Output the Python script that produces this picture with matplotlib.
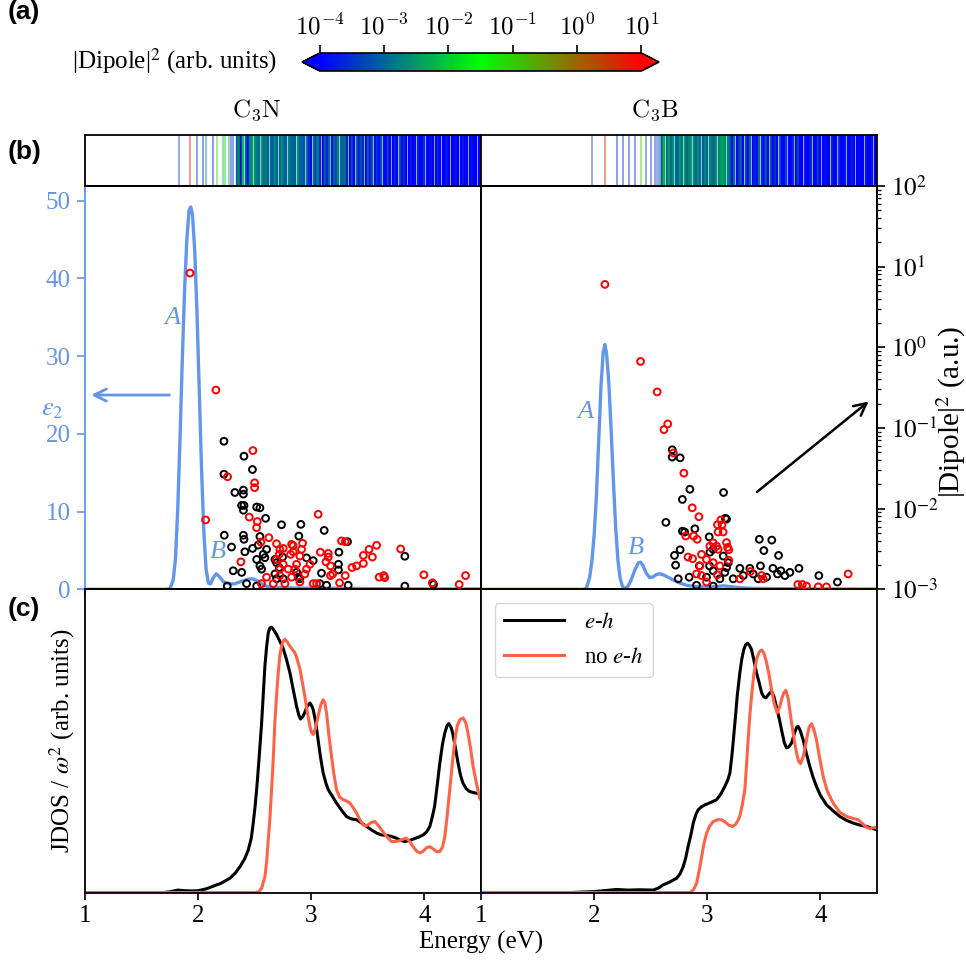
import numpy as np
import matplotlib
matplotlib.use('Agg')
import matplotlib.pyplot as plt
from matplotlib.colors import LinearSegmentedColormap, LogNorm
from matplotlib.cm import ScalarMappable
from matplotlib.ticker import LogLocator, NullFormatter, FuncFormatter, FixedLocator

plt.rcParams['font.family'] = ['Liberation Serif', 'DejaVu Serif']
plt.rcParams['mathtext.fontset'] = 'stix'

# ---------------- data ----------------
panels = ['C$_3$N', 'C$_3$B']

# epsilon_2 curves
eps_c3n_E = [1.00, 1.70, 1.75, 1.78, 1.80, 1.82, 1.84, 1.86, 1.88, 1.90, 1.92, 1.935, 1.95, 1.97, 1.99, 2.01,
             2.03, 2.05, 2.07, 2.09, 2.11, 2.13, 2.16, 2.19, 2.22, 2.25, 2.28, 2.32, 2.36, 2.40, 2.44, 2.48,
             2.52, 2.56, 2.60, 2.66, 2.75, 2.90, 3.10, 3.30, 3.60, 4.00, 4.50]
eps_c3n_v = [0.0, 0.0, 0.05, 1.2, 4.0, 10.5, 19.5, 29.5, 38.5, 45.0, 48.8, 49.2, 48.2, 43.5, 35.5, 25.5,
             15.5, 7.5, 2.6, 0.8, 0.7, 1.4, 2.0, 1.6, 1.0, 0.8, 0.7, 0.7, 0.9, 1.1, 1.3, 1.35,
             1.1, 0.7, 0.4, 0.25, 0.2, 0.15, 0.15, 0.12, 0.08, 0.05, 0.05]
eps_c3b_E = [1.00, 1.90, 1.93, 1.96, 1.98, 2.00, 2.02, 2.04, 2.06, 2.08, 2.095, 2.11, 2.13, 2.15, 2.17, 2.19,
             2.21, 2.23, 2.25, 2.27, 2.30, 2.33, 2.36, 2.39, 2.41, 2.43, 2.46, 2.49, 2.52, 2.55, 2.58, 2.62,
             2.66, 2.70, 2.76, 2.82, 2.90, 3.00, 3.08, 3.14, 3.20, 3.30, 3.40, 3.70, 4.00, 4.50]
eps_c3b_v = [0.0, 0.0, 0.1, 1.5, 3.6, 7.0, 12.0, 19.0, 26.0, 30.5, 31.5, 30.3, 26.5, 20.5, 14.0, 8.0,
             3.8, 1.4, 0.4, 0.1, 0.4, 1.3, 2.5, 3.4, 3.5, 3.1, 2.1, 1.5, 1.6, 1.9, 2.0, 1.8,
             1.5, 1.2, 0.8, 0.5, 0.35, 0.3, 0.35, 0.45, 0.35, 0.2, 0.12, 0.08, 0.05, 0.03]

# |dipole|^2 scatter (log10 values)
c3n_red_E = [1.928, 2.157, 2.066, 2.26, 2.484, 2.499, 2.499, 2.452, 2.523, 2.517, 3.061, 2.625, 2.555, 2.378,
             3.267, 3.30, 3.51, 3.577, 3.46, 3.54, 3.46, 3.36, 3.40, 3.79, 3.995, 4.07, 4.307, 4.363, 3.60,
             3.64, 3.65, 3.30, 3.25, 3.17, 3.19, 3.08, 3.15, 3.15, 3.13, 3.17,
             2.693, 2.722, 2.752, 2.717, 2.693, 2.752, 2.722, 2.826, 2.84, 2.84, 2.817, 2.923, 2.914, 2.899,
             2.87, 2.796, 2.855, 2.988, 2.958, 2.943, 2.722, 2.826, 2.605, 2.56, 2.664, 2.767, 3.017, 3.047,
             2.899]
c3n_red_logd = [0.92, -0.53, -2.14, -1.605, -1.28, -1.68, -1.74, -2.105, -2.16, -2.236, -2.07, -2.36, -2.415,
                -2.66, -2.40, -2.41, -2.505, -2.455, -2.58, -2.60, -2.68, -2.73, -2.71, -2.50, -2.82, -2.92,
                -2.94, -2.83, -2.85, -2.83, -2.855, -2.83, -2.92, -2.83, -2.81, -2.54, -2.555, -2.60, -2.66,
                -2.71,
                -2.435, -2.505, -2.493, -2.567, -2.63, -2.69, -2.75, -2.443, -2.46, -2.535, -2.567, -2.43,
                -2.505, -2.588, -2.69, -2.75, -2.75, -2.69, -2.75, -2.81, -2.83, -2.85, -2.85, -2.93, -2.93,
                -2.93, -2.93, -2.93, -2.91]
c3n_blk_E = [2.228, 2.405, 2.48, 2.228, 2.325, 2.40, 2.40, 2.384, 2.405, 2.40, 2.517, 2.546, 2.596, 2.231,
             2.40, 2.405, 2.737, 2.908, 3.114, 2.89, 2.295, 2.31, 2.385, 3.244, 3.32, 3.827, 4.08, 3.24,
             3.24, 3.09,
             2.413, 2.481, 2.531, 2.546, 2.575, 2.59, 2.605, 2.517, 2.546, 2.561, 2.679, 2.693, 2.717,
             2.679, 2.746, 2.752, 2.693, 2.87, 2.884, 2.899, 2.958, 3.017, 3.076, 3.135, 3.326, 3.827,
             2.257, 2.428, 2.517]
c3n_blk_logd = [-1.165, -1.35, -1.515, -1.573, -1.80, -1.77, -1.82, -1.96, -1.96, -2.02, -1.98, -1.99, -2.12,
                -2.33, -2.33, -2.38, -2.20, -2.195, -2.27, -2.34, -2.476, -2.77, -2.79, -2.54, -2.41, -2.59,
                -2.94, -2.69, -2.76, -2.80,
                -2.535, -2.493, -2.452, -2.345, -2.567, -2.608, -2.505, -2.63, -2.71, -2.75, -2.63, -2.67,
                -2.73, -2.81, -2.60, -2.87, -2.87, -2.79, -2.85, -2.87, -2.61, -2.645, -2.93, -2.95, -2.95,
                -2.96, -2.96, -2.93, -2.96]
c3b_red_E = [2.095, 2.41, 2.557, 2.65, 2.617, 2.70, 2.793, 2.867, 2.926, 3.12, 3.09, 3.13, 3.095, 3.14, 2.81,
             2.88, 2.91, 3.17, 3.18, 3.19, 3.19, 2.83, 2.87, 3.38, 4.245, 3.80, 3.84,
             3.023, 3.052, 3.082, 3.096, 2.949, 2.993, 3.052, 3.111, 2.935, 2.905, 2.949, 3.088, 3.288,
             3.48, 3.494, 3.877, 3.98, 4.053, 2.993]
c3b_red_logd = [0.78, -0.175, -0.553, -0.95, -1.02, -1.31, -1.56, -1.99, -2.10, -2.14, -2.20, -2.20, -2.29,
                -2.29, -2.34, -2.34, -2.38, -2.42, -2.48, -2.51, -2.64, -2.60, -2.62, -2.78, -2.81, -2.94,
                -2.94,
                -2.465, -2.424, -2.465, -2.505, -2.567, -2.63, -2.67, -2.71, -2.71, -2.81, -2.83, -2.82,
                -2.87, -2.83, -2.87, -2.96, -2.97, -2.97, -2.91]
c3b_blk_E = [2.69, 2.69, 2.76, 2.846, 2.78, 3.144, 3.17, 3.16, 2.634, 2.78, 2.80, 2.89, 3.017, 3.46, 3.57,
             3.50, 3.63, 2.76, 2.71, 2.72, 2.93, 3.02, 3.288, 3.376, 3.47, 3.58, 3.65, 3.81, 3.986, 4.15,
             3.023, 3.052, 3.141, 3.185, 3.17, 3.155, 3.052, 2.993, 3.111, 3.229, 3.318, 3.406, 3.45,
             3.524, 3.621, 3.686, 3.73, 2.84, 2.743, 2.905, 3.052]
c3b_blk_logd = [-1.27, -1.36, -1.37, -1.76, -1.886, -1.80, -2.13, -2.12, -2.17, -2.28, -2.29, -2.25, -2.35,
                -2.38, -2.39, -2.52, -2.58, -2.51, -2.58, -2.70, -2.71, -2.71, -2.74, -2.74, -2.71, -2.74,
                -2.77, -2.74, -2.83, -2.91,
                -2.54, -2.505, -2.588, -2.67, -2.73, -2.79, -2.77, -2.85, -2.87, -2.87, -2.83, -2.81, -2.87,
                -2.85, -2.81, -2.83, -2.79, -2.85, -2.87, -2.95, -2.96]

# spectral strip: isolated transitions (energy, log10 |dipole|^2)
c3n_line_E = [1.83, 1.93, 1.987, 2.04, 2.069, 2.133, 2.163, 2.22, 2.24, 2.27, 2.29, 2.31]
c3n_line_logd = [-3.4, 0.92, -3.5, -3.6, -2.6, -3.8, -1.2, -2.2, -1.9, -2.3, -3.6, -3.8]
c3b_line_E = [1.978, 2.095, 2.20, 2.257, 2.307, 2.36, 2.41, 2.455, 2.50, 2.537, 2.557, 2.575, 2.59]
c3b_line_logd = [-3.4, 0.78, -3.8, -3.6, -3.7, -3.6, -0.9, -3.5, -3.7, -3.6, -3.2, -3.5, -3.3]
# dense part of strip: log10 |dipole|^2 on a 0.02 eV grid
c3n_band_start = 2.34
c3n_band_logd = [-3.0, -2.6, -4.0, -2.0, -3.0, -4.0, -2.7, -2.5, -2.6, -2.8, -3.0, -2.5, -3.0, -2.7, -3.0,
                 -3.0, -3.1, -2.6, -3.0, -3.0, -2.5, -3.0, -3.1, -2.7, -3.0, -3.0, -3.1, -2.6, -3.0, -3.1,
                 -3.2, -2.9, -3.5, -4.0, -3.0, -3.2, -2.6, -3.6, -4.0, -3.0, -3.8, -3.0, -4.0, -3.0, -3.2,
                 -2.8, -3.0, -3.0, -2.9, -3.6, -4.0, -3.2, -4.0, -3.0, -3.8, -3.2, -3.6, -4.0, -3.0, -3.9,
                 -3.1, -4.0, -3.4, -4.0, -3.2, -3.9, -4.0, -3.3, -4.0, -4.0, -3.6, -4.0, -3.0, -4.0, -3.5,
                 -4.0, -4.0, -3.7, -4.0, -4.0, -3.6, -4.0, -4.0, -3.5, -4.0, -4.0, -3.8, -4.0, -4.0, -3.6,
                 -4.0, -4.0, -4.0, -3.7, -4.0, -4.0, -4.0, -3.8, -4.0, -4.0, -3.7, -4.0, -4.0, -4.0, -3.8,
                 -4.0, -4.0, -4.0, -4.0]
c3b_band_start = 2.60
c3b_band_logd = [-2.9, -2.2, -3.0, -2.4, -3.0, -2.6, -3.0, -3.1, -2.5, -2.8, -2.5, -3.0, -2.8, -2.5, -2.7,
                 -3.0, -2.6, -2.9, -3.1, -2.7, -3.0, -2.6, -2.9, -3.0, -2.6, -2.7, -2.5, -2.4, -2.6, -2.8,
                 -2.9, -4.0, -3.0, -4.0, -3.4, -3.0, -4.0, -3.2, -4.0, -3.0, -4.0, -3.6, -4.0, -2.9, -3.5,
                 -4.0, -3.0, -4.0, -3.1, -4.0, -3.4, -4.0, -3.0, -4.0, -4.0, -3.4, -4.0, -4.0, -3.6, -4.0,
                 -3.3, -4.0, -4.0, -3.7, -4.0, -4.0, -3.5, -4.0, -4.0, -3.3, -4.0, -4.0, -3.8, -4.0, -4.0,
                 -3.6, -4.0, -4.0, -3.4, -4.0, -4.0, -3.8, -4.0, -4.0, -3.6, -4.0, -4.0, -3.9, -4.0, -4.0,
                 -3.7, -4.0, -4.0, -3.8, -4.0, -4.0]

# JDOS / omega^2 (arb. units)
jd_c3n_eh_E = [1.00, 1.70, 1.76, 1.82, 1.88, 1.95, 2.00, 2.07, 2.134, 2.20, 2.281, 2.33, 2.369, 2.41, 2.443,
               2.47, 2.487, 2.505, 2.522, 2.54, 2.561, 2.575, 2.59, 2.605, 2.62, 2.635, 2.649, 2.67, 2.693,
               2.72, 2.75, 2.78, 2.811, 2.84, 2.87, 2.89, 2.905, 2.925, 2.94, 2.965, 2.988, 3.005, 3.017,
               3.04, 3.06, 3.08, 3.105, 3.13, 3.15, 3.19, 3.223, 3.27, 3.31, 3.35, 3.40, 3.44, 3.488, 3.53,
               3.577, 3.62, 3.665, 3.71, 3.753, 3.79, 3.827, 3.86, 3.90, 3.95, 3.989, 4.02, 4.048, 4.07,
               4.09, 4.115, 4.136, 4.16, 4.18, 4.20, 4.216, 4.235, 4.25, 4.275, 4.297, 4.32, 4.34, 4.37,
               4.40, 4.45, 4.50]
jd_c3n_eh_v = [0.0, 0.0, 0.003, 0.008, 0.006, 0.005, 0.006, 0.012, 0.021, 0.03, 0.047, 0.065, 0.085, 0.11,
               0.14, 0.18, 0.229, 0.29, 0.361, 0.45, 0.559, 0.65, 0.746, 0.81, 0.857, 0.873, 0.875, 0.865,
               0.851, 0.83, 0.807, 0.77, 0.725, 0.67, 0.614, 0.585, 0.572, 0.58, 0.592, 0.615, 0.625, 0.615,
               0.603, 0.56, 0.504, 0.45, 0.394, 0.36, 0.339, 0.315, 0.295, 0.27, 0.251, 0.243, 0.24, 0.23,
               0.218, 0.207, 0.196, 0.19, 0.188, 0.185, 0.179, 0.172, 0.168, 0.171, 0.176, 0.183, 0.19, 0.2,
               0.218, 0.25, 0.284, 0.36, 0.427, 0.49, 0.526, 0.55, 0.557, 0.545, 0.526, 0.475, 0.427, 0.385,
               0.361, 0.342, 0.333, 0.328, 0.325]
jd_c3n_no_E = [1.00, 2.50, 2.535, 2.561, 2.59, 2.605, 2.62, 2.635, 2.649, 2.665, 2.678, 2.693, 2.708, 2.722,
               2.737, 2.752, 2.767, 2.79, 2.81, 2.83, 2.855, 2.875, 2.90, 2.92, 2.943, 2.965, 2.988, 3.00,
               3.017, 3.035, 3.06, 3.085, 3.105, 3.12, 3.135, 3.155, 3.179, 3.20, 3.223, 3.25, 3.282, 3.31,
               3.341, 3.37, 3.40, 3.43, 3.458, 3.48, 3.50, 3.53, 3.562, 3.59, 3.62, 3.665, 3.709, 3.745,
               3.78, 3.81, 3.84, 3.87, 3.90, 3.93, 3.96, 3.99, 4.02, 4.048, 4.08, 4.11, 4.136, 4.16, 4.18,
               4.20, 4.224, 4.245, 4.27, 4.29, 4.313, 4.342, 4.365, 4.385, 4.41, 4.43, 4.46, 4.489, 4.50]
jd_c3n_no_v = [0.0, 0.0, 0.002, 0.014, 0.052, 0.1, 0.174, 0.25, 0.339, 0.45, 0.559, 0.65, 0.725, 0.78,
               0.813, 0.83, 0.835, 0.825, 0.813, 0.803, 0.791, 0.77, 0.736, 0.695, 0.647, 0.595, 0.548, 0.53,
               0.521, 0.54, 0.581, 0.62, 0.636, 0.625, 0.592, 0.52, 0.449, 0.39, 0.339, 0.315, 0.306, 0.302,
               0.295, 0.28, 0.262, 0.24, 0.223, 0.22, 0.223, 0.231, 0.234, 0.222, 0.207, 0.185, 0.168,
               0.168, 0.171, 0.176, 0.179, 0.168, 0.151, 0.137, 0.13, 0.137, 0.148, 0.151, 0.143, 0.134,
               0.135, 0.15, 0.184, 0.25, 0.339, 0.42, 0.504, 0.55, 0.57, 0.576, 0.56, 0.526, 0.47, 0.416,
               0.36, 0.311, 0.305]
jd_c3b_eh_E = [1.00, 1.80, 2.00, 2.20, 2.30, 2.40, 2.522, 2.57, 2.61, 2.67, 2.729, 2.76, 2.787, 2.81, 2.83,
               2.855, 2.876, 2.90, 2.92, 2.95, 2.979, 3.03, 3.082, 3.12, 3.155, 3.18, 3.20, 3.22, 3.244,
               3.265, 3.288, 3.305, 3.323, 3.34, 3.356, 3.373, 3.39, 3.41, 3.435, 3.46, 3.48, 3.50, 3.518,
               3.545, 3.568, 3.59, 3.61, 3.635, 3.656, 3.68, 3.70, 3.72, 3.745, 3.77, 3.79, 3.803, 3.82,
               3.847, 3.875, 3.906, 3.935, 3.965, 4.00, 4.054, 4.11, 4.171, 4.23, 4.29, 4.35, 4.407, 4.45,
               4.50]
jd_c3b_eh_v = [0.0, 0.0, 0.003, 0.01, 0.008, 0.009, 0.008, 0.015, 0.025, 0.035, 0.047, 0.062, 0.085, 0.115,
               0.151, 0.19, 0.229, 0.258, 0.273, 0.283, 0.289, 0.297, 0.306, 0.325, 0.35, 0.37, 0.394, 0.46,
               0.559, 0.65, 0.725, 0.77, 0.802, 0.818, 0.822, 0.815, 0.802, 0.77, 0.725, 0.69, 0.659, 0.645,
               0.642, 0.655, 0.664, 0.645, 0.614, 0.575, 0.537, 0.495, 0.477, 0.48, 0.493, 0.525, 0.545,
               0.548, 0.535, 0.504, 0.46, 0.416, 0.38, 0.35, 0.32, 0.289, 0.27, 0.251, 0.238, 0.229, 0.222,
               0.218, 0.212, 0.207]
jd_c3b_no_E = [1.00, 2.85, 2.88, 2.905, 2.93, 2.95, 2.97, 2.994, 3.02, 3.052, 3.09, 3.126, 3.16, 3.19, 3.223,
               3.25, 3.275, 3.29, 3.31, 3.332, 3.345, 3.361, 3.375, 3.391, 3.41, 3.435, 3.458, 3.48, 3.50,
               3.524, 3.545, 3.568, 3.59, 3.618, 3.638, 3.656, 3.675, 3.694, 3.715, 3.745, 3.77, 3.789,
               3.805, 3.824, 3.85, 3.877, 3.90, 3.921, 3.94, 3.965, 3.99, 4.024, 4.06, 4.112, 4.17, 4.23,
               4.28, 4.333, 4.37, 4.407, 4.44, 4.48, 4.50]
jd_c3b_no_v = [0.0, 0.0, 0.01, 0.03, 0.075, 0.118, 0.16, 0.196, 0.218, 0.234, 0.24, 0.24, 0.232, 0.222,
               0.218, 0.225, 0.24, 0.255, 0.29, 0.339, 0.41, 0.504, 0.58, 0.647, 0.715, 0.769, 0.793, 0.80,
               0.79, 0.758, 0.72, 0.669, 0.625, 0.592, 0.61, 0.636, 0.658, 0.667, 0.64, 0.559, 0.5, 0.46,
               0.435, 0.425, 0.45, 0.504, 0.545, 0.557, 0.54, 0.504, 0.45, 0.383, 0.335, 0.295, 0.265, 0.251,
               0.245, 0.24, 0.228, 0.215, 0.21, 0.215, 0.212]

xticks = [1, 2, 3, 4]
eps_ticks = [0, 10, 20, 30, 40, 50]

# ---------------- styles ----------------
BLUE = '#6495ED'
TOMATO = '#FF6347'
W, H = 966.0, 960.0
cmap = LinearSegmentedColormap.from_list('dip', ['#0000ff', '#00ff00', '#ff0000'])
norm = LogNorm(1e-4, 1e1)


def box(x0, y0, x1, y1):
    return [x0 / W, 1 - y1 / H, (x1 - x0) / W, (y1 - y0) / H]


fig = plt.figure(figsize=(W / 100, H / 100), dpi=100)

XL, XM, XR = 85, 481, 877
Y0, Y1, Y2, Y3 = 135, 186, 589.3, 892.5

sL = fig.add_axes(box(XL, Y0, XM, Y1))
sR = fig.add_axes(box(XM, Y0, XR, Y1))
bL = fig.add_axes(box(XL, Y1, XM, Y2))
bR = fig.add_axes(box(XM, Y1, XR, Y2))
cL = fig.add_axes(box(XL, Y2, XM, Y3))
cR = fig.add_axes(box(XM, Y2, XR, Y3))
cax = fig.add_axes(box(302, 53, 659, 71))

TS = 18

# ---- strip ----
for ax, lE, lD, bs, bD in [(sL, c3n_line_E, c3n_line_logd, c3n_band_start, c3n_band_logd),
                           (sR, c3b_line_E, c3b_line_logd, c3b_band_start, c3b_band_logd)]:
    bE = np.round(bs + 0.02 * np.arange(len(bD)), 3)
    ax.vlines(bE, 0, 1, colors=cmap(norm(10 ** np.array(bD))), lw=1.75)
    ax.vlines(lE, 0, 1, colors=cmap(norm(10 ** np.array(lD))), lw=1.1, alpha=0.55)
    ax.set_xlim(1, 4.5)
    ax.set_ylim(0, 1)
    ax.set_yticks([])
    ax.set_xticks(xticks)
    ax.tick_params(axis='x', direction='out', length=5, width=1.2, labelbottom=False)
    for sp in ax.spines.values():
        sp.set_linewidth(1.3)

# ---- panel b ----
for ax, E, v in [(bL, eps_c3n_E, eps_c3n_v), (bR, eps_c3b_E, eps_c3b_v)]:
    ax.plot(E, v, color=BLUE, lw=2.4, solid_joinstyle='round')
    ax.set_xlim(1, 4.5)
    ax.set_ylim(0, 51.9)
    ax.set_xticks(xticks)
    ax.tick_params(axis='x', direction='out', length=5, width=1.2, labelbottom=False)
    for sp in ax.spines.values():
        sp.set_linewidth(1.3)

bL.set_yticks(eps_ticks)
bL.tick_params(axis='y', colors=BLUE, labelsize=TS, length=5.5, width=1.2, pad=5)
bL.spines['left'].set_color(BLUE)
bR.set_yticks([])

tL = bL.twinx()
tR = bR.twinx()
for ax, rE, rD, kE, kD in [(tL, c3n_red_E, c3n_red_logd, c3n_blk_E, c3n_blk_logd),
                           (tR, c3b_red_E, c3b_red_logd, c3b_blk_E, c3b_blk_logd)]:
    ax.set_yscale('log')
    ax.set_ylim(1e-3, 1e2)
    ax.scatter(kE, 10 ** np.array(kD), s=24, facecolors='none', edgecolors='k', linewidths=1.4, zorder=3)
    ax.scatter(rE, 10 ** np.array(rD), s=24, facecolors='none', edgecolors='#ff0000', linewidths=1.4, zorder=4)
    ax.spines['left'].set_visible(False)
    for sp in ax.spines.values():
        sp.set_linewidth(1.3)
tL.tick_params(axis='y', which='both', right=False, labelright=False)
tR.yaxis.set_major_locator(LogLocator(base=10, numticks=10))
tR.yaxis.set_minor_locator(LogLocator(base=10, subs=np.arange(2, 10), numticks=20))
tR.yaxis.set_minor_formatter(NullFormatter())
tR.yaxis.set_major_formatter(FuncFormatter(lambda v, p: r'$10^{%d}$' % round(np.log10(v))))
tR.tick_params(axis='y', which='major', labelsize=TS, length=6, width=1.2, pad=4)
tR.tick_params(axis='y', which='minor', length=3, width=0.9)

# annotations in panel b
bL.annotate('', xy=(1.03, 25.0), xytext=(1.77, 25.0),
            arrowprops=dict(arrowstyle='->', color=BLUE, lw=2.0, mutation_scale=22))
bR.annotate('', xy=(4.445, 24.4), xytext=(3.42, 12.3),
            arrowprops=dict(arrowstyle='->', color='k', lw=1.8, mutation_scale=22))
for ax, (ax_, ay), (bx_, by) in [(bL, (1.77, 34.9), (2.175, 4.8)), (bR, (1.92, 22.8), (2.37, 5.3))]:
    ax.text(ax_, ay, 'A', color=BLUE, fontsize=19, style='italic', ha='center', va='center')
    ax.text(bx_, by, 'B', color=BLUE, fontsize=19, style='italic', ha='center', va='center')

# ---- panel c ----
for ax, (eE, eV), (nE, nV) in [(cL, (jd_c3n_eh_E, jd_c3n_eh_v), (jd_c3n_no_E, jd_c3n_no_v)),
                               (cR, (jd_c3b_eh_E, jd_c3b_eh_v), (jd_c3b_no_E, jd_c3b_no_v))]:
    ax.plot(eE, eV, color='k', lw=2.2, label='$e$-$h$', solid_joinstyle='round')
    ax.plot(nE, nV, color=TOMATO, lw=2.2, label='no $e$-$h$', solid_joinstyle='round')
    ax.set_xlim(1, 4.5)
    ax.set_ylim(0, 1.0)
    ax.set_yticks([])
    ax.set_xticks(xticks)
    ax.tick_params(axis='x', direction='out', length=5, width=1.2, labelsize=TS, pad=4)
    for sp in ax.spines.values():
        sp.set_linewidth(1.3)
cR.legend(loc='upper left', fontsize=16.5, handlelength=2.6, labelspacing=0.6, borderaxespad=0.6,
          handletextpad=0.9)

# ---- colorbar ----
cb = fig.colorbar(ScalarMappable(norm=norm, cmap=cmap), cax=cax, orientation='horizontal',
                  extend='both', extendfrac=0.055, ticklocation='top')
cb.set_ticks([1e-4, 1e-3, 1e-2, 1e-1, 1e0, 1e1])
cb.ax.xaxis.set_minor_locator(FixedLocator([]))
cb.ax.xaxis.set_major_formatter(FuncFormatter(lambda v, p: r'$10^{%d}$' % round(np.log10(v))))
cb.ax.tick_params(labelsize=TS, length=6, width=1.2)
cb.outline.set_linewidth(1.2)
fig.text(277 / W, 1 - 61 / H, '|Dipole|$^2$ (arb. units)', ha='right', va='center', fontsize=TS)

# ---- texts ----
fig.text(257 / W, 1 - 110 / H, r'$\mathrm{C_3N}$', ha='center', va='center', fontsize=TS,
         math_fontfamily='cm')
fig.text(655 / W, 1 - 110 / H, r'$\mathrm{C_3B}$', ha='center', va='center', fontsize=TS,
         math_fontfamily='cm')
for lab, y in [('(a)', 12), ('(b)', 152), ('(c)', 609)]:
    fig.text(8 / W, 1 - y / H, lab, ha='left', va='center', fontsize=19, fontweight='bold',
             family=['Liberation Sans', 'DejaVu Sans'])
fig.text(52 / W, 1 - 410 / H, r'$\epsilon_2$', color=BLUE, ha='center', va='center', fontsize=TS + 1)
fig.text(62 / W, 1 - 741 / H, r'JDOS / $\omega^2$ (arb. units)', rotation=90, ha='center', va='center',
         fontsize=TS)
fig.text(951 / W, 1 - 412 / H, '|Dipole|$^2$ (a.u.)', rotation=90, ha='center', va='center', fontsize=21)
fig.text(481 / W, 1 - 942 / H, 'Energy (eV)', ha='center', va='center', fontsize=TS)

fig.canvas.draw()
for t in cb.ax.get_xticklabels():
    t.set_math_fontfamily('cm')
fig.savefig('out.png', dpi=100)
